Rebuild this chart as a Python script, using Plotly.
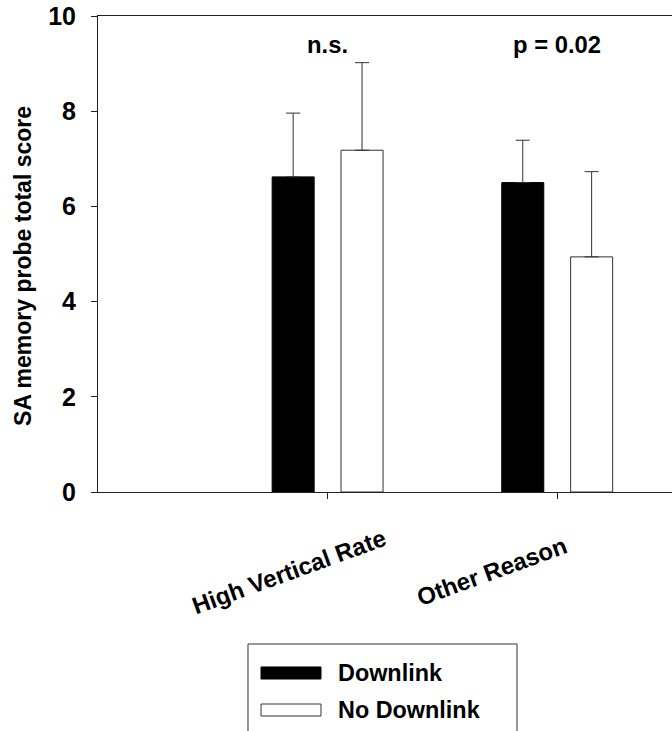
import plotly.graph_objects as go

categories = ["High Vertical Rate", "Other Reason"]
downlink = [6.62, 6.50]
downlink_err = [1.34, 0.89]
no_downlink = [7.18, 4.94]
no_downlink_err = [1.84, 1.79]
y_ticks = [0, 2, 4, 6, 8, 10]
sig_labels = ["n.s.", "p = 0.02"]
sig_y = 9.41
y_title = "SA memory probe total score"

FONT = "Liberation Sans, Arial, sans-serif"


def fnt(size):
    return dict(family=FONT, size=size, color="black", weight="bold")


fig = go.Figure()
fig.add_trace(go.Bar(
    name="Downlink", x=categories, y=downlink,
    marker=dict(color="black", line=dict(color="black", width=1)),
    error_y=dict(type="data", array=downlink_err, arrayminus=[0, 0], symmetric=False,
                 color="#333333", thickness=1, width=7),
    showlegend=False,
))
fig.add_trace(go.Bar(
    name="No Downlink", x=categories, y=no_downlink,
    marker=dict(color="white", line=dict(color="#333333", width=1)),
    error_y=dict(type="data", array=no_downlink_err, arrayminus=[0, 0], symmetric=False,
                 color="#333333", thickness=1, width=7),
    showlegend=False,
))

# significance labels
for c, s in zip(categories, sig_labels):
    fig.add_annotation(x=c, y=sig_y, xref="x", yref="y", text=s, showarrow=False,
                       font=fnt(23.8), xanchor="center", yanchor="middle")

# rotated category labels
label_pos = [(0.3336, -0.168), (0.6847, -0.166)]
for c, (px, py) in zip(categories, label_pos):
    fig.add_annotation(x=px, y=py, xref="paper", yref="paper", text=c, showarrow=False,
                       textangle=-20, font=fnt(24), xanchor="center", yanchor="middle")

# y-axis title
fig.add_annotation(x=-0.1298, y=0.476, xref="paper", yref="paper", text=y_title,
                   showarrow=False, textangle=-90, font=fnt(23),
                   xanchor="center", yanchor="middle")

# legend (drawn manually to get wide swatches)
fig.add_shape(type="rect", xref="paper", yref="paper", x0=0.2613, x1=0.730, y0=-0.3193, y1=-0.60,
              line=dict(color="#333333", width=1), fillcolor="white")
fig.add_shape(type="rect", xref="paper", yref="paper", x0=0.284, x1=0.3885, y0=-0.3676, y1=-0.3929,
              line=dict(color="black", width=1), fillcolor="black")
fig.add_shape(type="rect", xref="paper", yref="paper", x0=0.284, x1=0.3885, y0=-0.4454, y1=-0.4706,
              line=dict(color="#333333", width=1), fillcolor="white")
for name, py in [("Downlink", -0.380), ("No Downlink", -0.458)]:
    fig.add_annotation(x=0.4146, y=py, xref="paper", yref="paper", text=name, showarrow=False,
                       font=fnt(23.4), xanchor="left", yanchor="middle")

fig.update_layout(
    width=672, height=731,
    margin=dict(l=98, r=0, t=16, b=239, autoexpand=False),
    plot_bgcolor="white", paper_bgcolor="white",
    barmode="group", bargap=0.4, bargroupgap=0.39,
    font=fnt(23),
    showlegend=False,
)
fig.update_xaxes(
    range=[-1, 1.5], showgrid=False, zeroline=False, automargin=False,
    showline=True, linecolor="#222222", linewidth=1, mirror=True,
    ticks="outside", ticklen=6, tickcolor="#222222", showticklabels=False,
)
fig.update_yaxes(
    range=[0, 10], tickvals=y_ticks, showgrid=False, zeroline=False, automargin=False,
    showline=True, linecolor="#222222", linewidth=1,
    ticks="outside", ticklen=6, tickcolor="#222222", ticklabelstandoff=10,
    ticklabeloverflow="allow",
    tickfont=fnt(25),
)

fig.write_html("out.html", config={"displayModeBar": False},
               post_script="document.body.style.margin='0px';")
